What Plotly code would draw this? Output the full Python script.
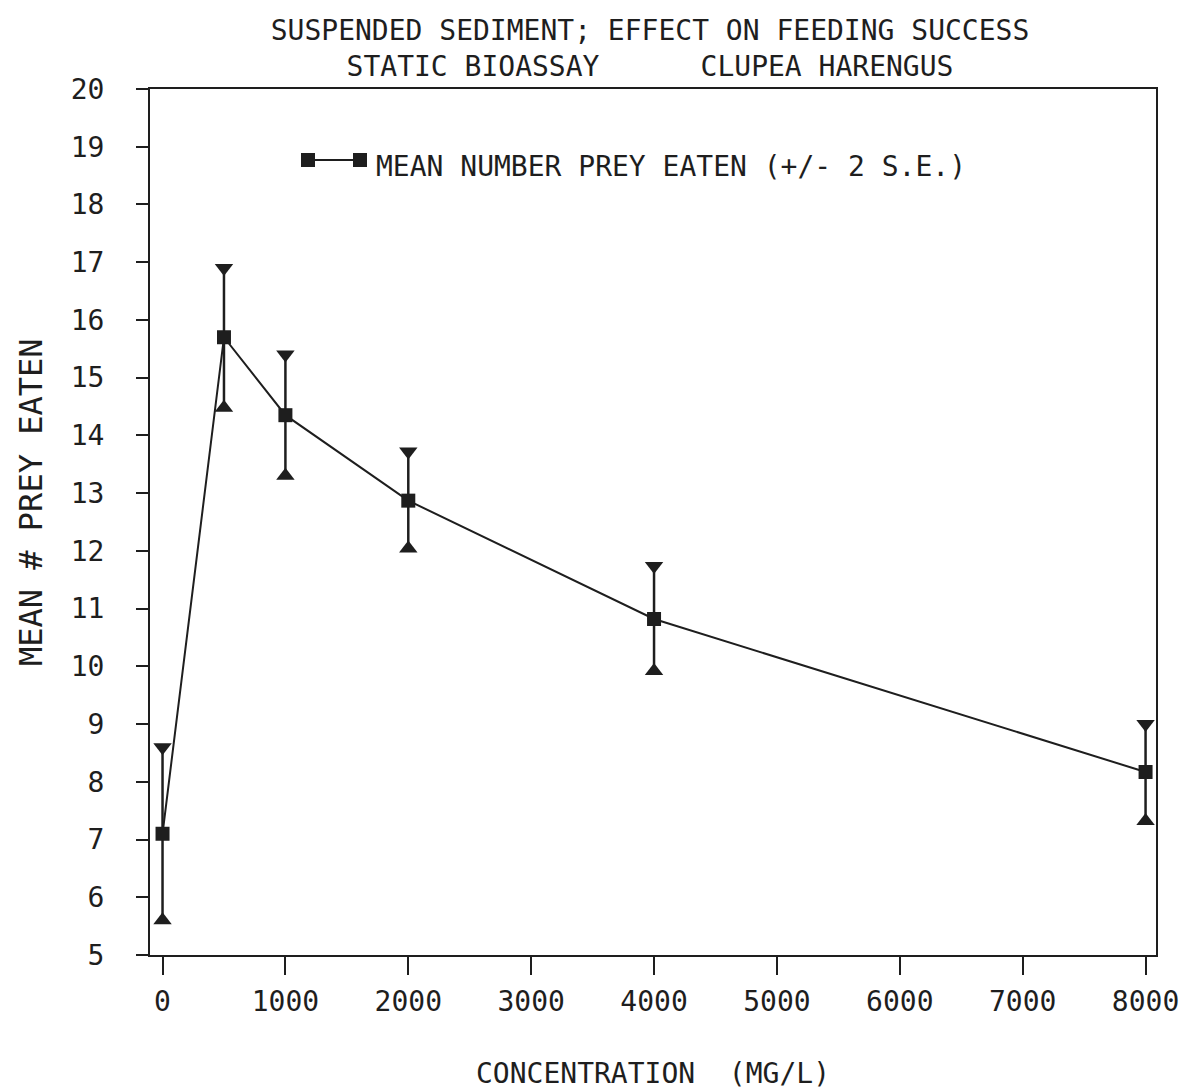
import plotly.graph_objects as go

# Data
concentration = [0, 500, 1000, 2000, 4000, 8000]
mean_prey = [7.1, 15.7, 14.35, 12.87, 10.82, 8.17]
upper_2se = [8.6, 16.9, 15.4, 13.72, 11.74, 9.0]
lower_2se = [5.6, 14.48, 13.3, 12.04, 9.92, 7.32]

x_ticks = [0, 1000, 2000, 3000, 4000, 5000, 6000, 7000, 8000]
y_ticks = list(range(5, 21))

title_line1 = "SUSPENDED SEDIMENT; EFFECT ON FEEDING SUCCESS"
title_line2 = "STATIC BIOASSAY" + "\u00a0" * 6 + "CLUPEA HARENGUS"
legend_label = "MEAN NUMBER PREY EATEN (+/- 2 S.E.)"
x_title = "CONCENTRATION\u00a0\u00a0(MG/L)"
y_title = "MEAN # PREY EATEN"

INK = "#1e1e1e"
FONT = "DejaVu Sans Mono"

err_plus = [u - m for u, m in zip(upper_2se, mean_prey)]
err_minus = [m - l for m, l in zip(mean_prey, lower_2se)]

fig = go.Figure()

fig.add_trace(go.Scatter(
    x=concentration, y=mean_prey,
    mode="lines+markers",
    line=dict(color=INK, width=2),
    marker=dict(symbol="square", size=14, color=INK),
    error_y=dict(type="data", symmetric=False, array=err_plus, arrayminus=err_minus,
                 color=INK, thickness=2.5, width=0),
    name=legend_label, showlegend=False,
))
fig.add_trace(go.Scatter(
    x=concentration, y=upper_2se, mode="markers",
    marker=dict(symbol="triangle-down", size=16, color=INK),
    showlegend=False, hoverinfo="skip",
))
fig.add_trace(go.Scatter(
    x=concentration, y=lower_2se, mode="markers",
    marker=dict(symbol="triangle-up", size=16, color=INK),
    showlegend=False, hoverinfo="skip",
))

# Legend drawn as a plotter-style key
L, R, T, B = 150, 27, 89, 135
W, H = 1183 - L - R, 1090 - T - B
def px(xp):
    return (xp - L) / W
def py(yp):
    return (1090 - B - yp) / H

shapes = [
    dict(type="line", xref="paper", yref="paper", x0=px(308), x1=px(360), y0=py(160), y1=py(160),
         line=dict(color=INK, width=2)),
]
for cx in (308, 360):
    shapes.append(dict(type="rect", xref="paper", yref="paper",
                       x0=px(cx - 7), x1=px(cx + 7), y0=py(160 + 7), y1=py(160 - 7),
                       fillcolor=INK, line=dict(width=0)))

fig.update_layout(
    width=1183, height=1090,
    margin=dict(l=L, r=R, t=T, b=B, autoexpand=False),
    paper_bgcolor="white", plot_bgcolor="white",
    font=dict(family=FONT, color=INK, size=28),
    title=dict(text=title_line1 + "<br>" + title_line2, xref="container", x=650 / 1183,
               xanchor="center", yref="container", y=1 - 40 / 1090, yanchor="middle",
               font=dict(size=28, family=FONT, color=INK)),
    shapes=shapes,
    annotations=[
        dict(text=legend_label, xref="paper", yref="paper", x=px(374), y=py(167),
             xanchor="left", yanchor="middle", showarrow=False,
             font=dict(size=28, family=FONT, color=INK)),
        dict(text=y_title, xref="paper", yref="paper", x=px(31), y=py(502),
             xanchor="center", yanchor="middle", textangle=-90, showarrow=False,
             font=dict(size=32, family=FONT, color=INK)),
    ],
    showlegend=False,
)

fig.update_xaxes(
    range=[-102, 8085], tickvals=x_ticks, ticktext=[str(v) for v in x_ticks],
    showgrid=False, zeroline=False, showline=True, linecolor=INK, linewidth=2, mirror=True,
    ticks="outside", ticklen=18, tickwidth=2, tickcolor=INK, automargin=False,
    tickfont=dict(size=28, family=FONT, color=INK), ticklabelstandoff=2,
    title=dict(text=x_title, standoff=58,
               font=dict(size=28, family=FONT, color=INK)),
)
fig.update_yaxes(
    range=[5, 20], tickvals=y_ticks, ticktext=[str(v) for v in y_ticks],
    showgrid=False, zeroline=False, showline=True, linecolor=INK, linewidth=2, mirror=True,
    ticks="outside", ticklen=12, tickwidth=2, tickcolor=INK, automargin=False,
    tickfont=dict(size=28, family=FONT, color=INK), ticklabelstandoff=26,
)

fig.write_html("out.html")
